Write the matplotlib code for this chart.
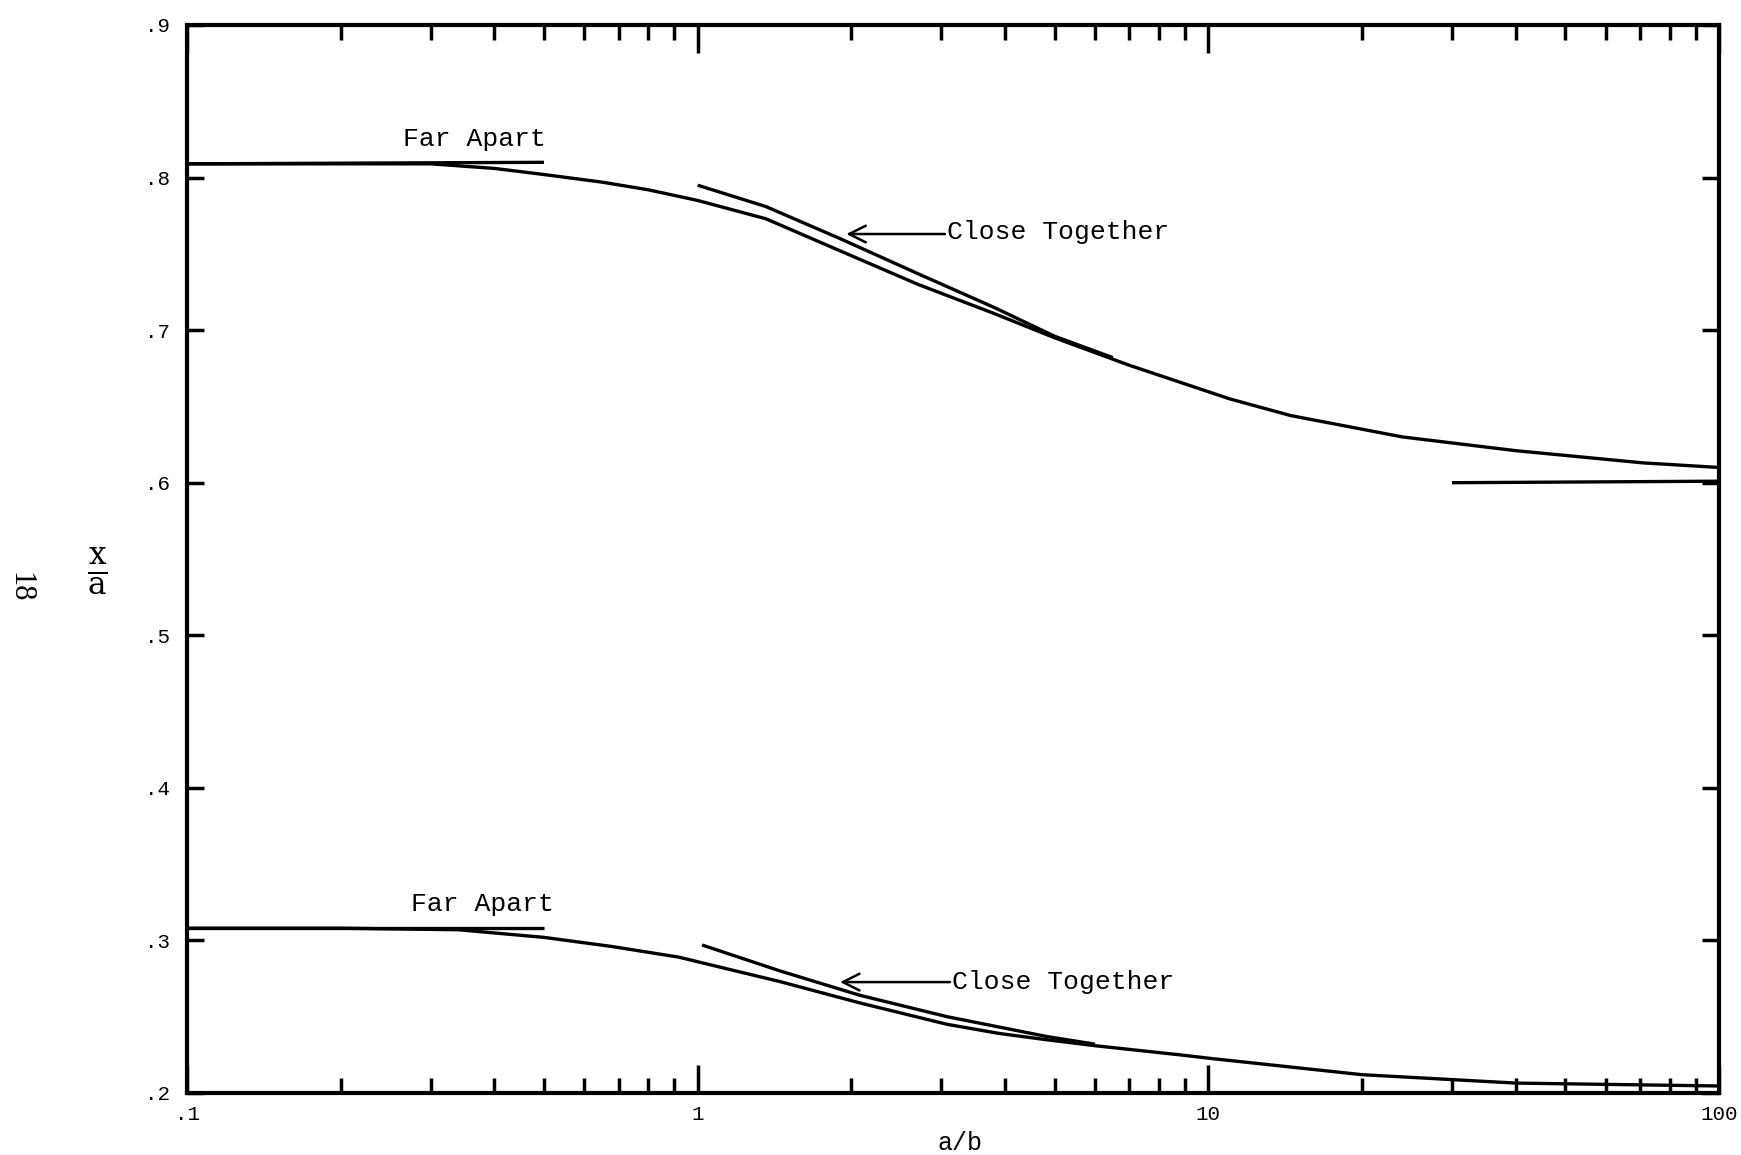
import numpy as np
import matplotlib
matplotlib.use("Agg")
import matplotlib.pyplot as plt
from matplotlib.ticker import FixedLocator, NullFormatter

# ---- data (x = a/b, y = x/a) ----
upper_main_x = [0.1, 0.2, 0.3, 0.4, 0.5, 0.65, 0.8, 1.0, 1.36, 1.9, 2.7, 3.8, 5.0, 7.0, 11.0, 14.5, 24.0, 40.0, 71.0, 100.0]
upper_main_y = [0.809, 0.809, 0.809, 0.806, 0.802, 0.797, 0.792, 0.785, 0.773, 0.752, 0.730, 0.711, 0.695, 0.677, 0.655, 0.644, 0.630, 0.621, 0.613, 0.610]

upper_close_x = [1.0, 1.36, 1.9, 2.7, 3.8, 5.0, 6.5]
upper_close_y = [0.795, 0.781, 0.760, 0.737, 0.715, 0.696, 0.682]

upper_far_x = [0.1, 0.5]
upper_far_y = [0.809, 0.810]

upper_limit_x = [30.0, 100.0]
upper_limit_y = [0.600, 0.601]

lower_main_x = [0.1, 0.2, 0.34, 0.5, 0.68, 0.92, 1.03, 1.45, 2.08, 3.08, 3.9, 4.8, 6.0, 8.8, 10.2, 20.0, 40.0, 100.0]
lower_main_y = [0.308, 0.308, 0.307, 0.302, 0.296, 0.289, 0.285, 0.273, 0.259, 0.245, 0.239, 0.235, 0.231, 0.225, 0.2225, 0.212, 0.2065, 0.2046]

lower_close_x = [1.02, 1.45, 2.08, 3.08, 4.83, 6.0]
lower_close_y = [0.297, 0.280, 0.264, 0.250, 0.237, 0.232]

lower_far_x = [0.1, 0.5]
lower_far_y = [0.308, 0.308]

y_ticks = [0.2, 0.3, 0.4, 0.5, 0.6, 0.7, 0.8, 0.9]
y_labels = [".2", ".3", ".4", ".5", ".6", ".7", ".8", ".9"]
x_ticks = [0.1, 1, 10, 100]
x_labels = [".1", "1", "10", "100"]

mono = "Liberation Mono"

#####################
# FIGURE
#####################
fig = plt.figure(figsize=(17.41, 11.55), dpi=100)
ax = fig.add_axes([187 / 1741, 1 - 1093 / 1155, (1719 - 187) / 1741, (1093 - 25) / 1155])

lw = 2.4
for xs, ys in [(upper_main_x, upper_main_y), (upper_close_x, upper_close_y),
               (upper_far_x, upper_far_y), (upper_limit_x, upper_limit_y),
               (lower_main_x, lower_main_y), (lower_close_x, lower_close_y),
               (lower_far_x, lower_far_y)]:
    ax.plot(xs, ys, color="black", lw=lw, solid_capstyle="butt", solid_joinstyle="round")

ax.set_xscale("log")
ax.set_xlim(0.1, 100)
ax.set_ylim(0.2, 0.9)

ax.xaxis.set_major_locator(FixedLocator(x_ticks))
ax.set_xticklabels(x_labels, fontfamily=mono, fontsize=15)
minors = [m * d for d in (0.1, 1, 10) for m in range(2, 10)]
ax.xaxis.set_minor_locator(FixedLocator(minors))
ax.xaxis.set_minor_formatter(NullFormatter())
ax.set_yticks(y_ticks)
ax.set_yticklabels(y_labels, fontfamily=mono, fontsize=15)

ax.tick_params(axis="x", which="major", direction="in", top=True, length=20, width=2.5, pad=9)
ax.tick_params(axis="x", which="minor", direction="in", top=True, length=11, width=2.5)
ax.tick_params(axis="y", which="major", direction="in", right=True, length=12, width=2.5, pad=12)

for sp in ax.spines.values():
    sp.set_linewidth(3)

# annotations
ax.text(0.265, 0.8256, "Far Apart", fontfamily=mono, fontsize=19, va="center", ha="left")
ax.text(0.274, 0.3237, "Far Apart", fontfamily=mono, fontsize=19, va="center", ha="left")

ax.text(3.08, 0.764, "Close Together", fontfamily=mono, fontsize=19, va="center", ha="left")
ax.annotate("", xy=(1.955, 0.763), xytext=(3.05, 0.763),
            arrowprops=dict(arrowstyle="->", lw=1.8, color="black", mutation_scale=30,
                            shrinkA=0, shrinkB=0))

ax.text(3.15, 0.2727, "Close Together", fontfamily=mono, fontsize=19, va="center", ha="left")
ax.annotate("", xy=(1.90, 0.2727), xytext=(3.12, 0.2727),
            arrowprops=dict(arrowstyle="->", lw=1.8, color="black", mutation_scale=30,
                            shrinkA=0, shrinkB=0))

# axis labels
fig.text(960 / 1741, 1 - 1143 / 1155, "a/b", fontfamily=mono, fontsize=18, ha="center", va="center")
plt.rcParams["mathtext.fontset"] = "dejavuserif"
fig.text(97 / 1741, 1 - 571 / 1155, r"$\frac{\mathrm{x}}{\mathrm{a}}$", fontsize=32, ha="center", va="center")
fig.text(20 / 1741, 1 - 587 / 1155, "18", fontfamily="Liberation Serif", fontsize=22,
         rotation=270, ha="center", va="center")

fig.savefig("out.png", dpi=100, facecolor="white")
